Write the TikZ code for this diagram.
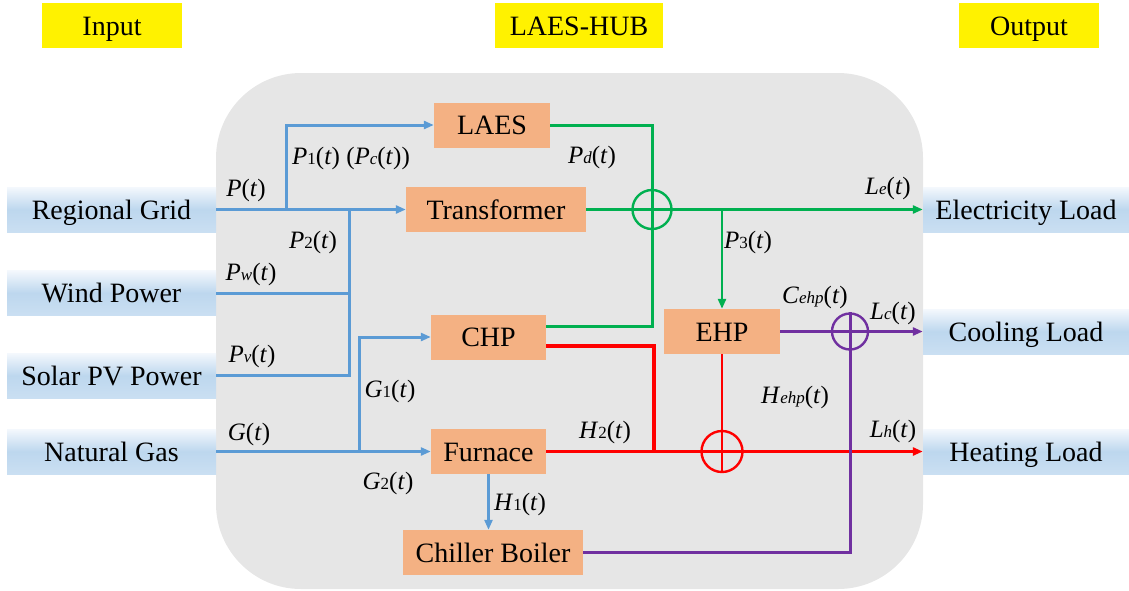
\documentclass[tikz,border=0pt]{standalone}
\usepackage{fontspec}
\setmainfont{Liberation Serif}
\usetikzlibrary{arrows.meta}
\definecolor{bgray}{RGB}{230,230,230}
\definecolor{orng}{RGB}{244,177,131}
\definecolor{lblue}{RGB}{91,155,213}
\definecolor{lgreen}{RGB}{0,176,80}
\definecolor{lred}{RGB}{255,0,0}
\definecolor{lpurp}{RGB}{112,48,160}
\definecolor{btop}{RGB}{244,248,253}
\definecolor{bmid}{RGB}{189,215,238}
\definecolor{bbot}{RGB}{202,223,242}
\newcommand\sbx[1]{{\fontsize{17}{17}\selectfont #1}}
\newcommand\tvar{(\textit{t})}
\begin{document}
\begin{tikzpicture}[x=1pt,y=-1pt,
  txt/.style={inner sep=0, text height=22pt, text depth=3pt, minimum height=45, font=\fontsize{28}{30}\selectfont},
  box/.style={txt, fill=orng, minimum width=#1},
  io/.style={txt, top color=btop, bottom color=bbot, middle color=bmid, minimum width=#1},
  ttl/.style={txt, fill=yellow, minimum width=#1},
  lab/.style={inner sep=0, font=\fontsize{25}{27}\selectfont},
  flow/.style={line width=3pt},
  tip/.style={-{Triangle[length=10pt,width=8pt]}},
  ring/.style={circle, draw=#1, line width=2.4pt, inner sep=0}
]
\useasboundingbox (0,0) rectangle (1129,590);
\node[fill=bgray, rounded corners=85pt, inner sep=0, minimum width=707, minimum height=516] (hub) at (569.5,331) {};

% titles
\node[ttl=140] (tin) at (112,25.5) {Input};
\node[ttl=168] (thub) at (579,25.5) {LAES-HUB};
\node[ttl=140] (tout) at (1029,25.5) {Output};

% inputs
\node[io=209] (rg) at (111.5,209.5) {Regional Grid};
\node[io=209] (wp) at (111.5,293) {Wind Power};
\node[io=209] (pv) at (111.5,375.5) {Solar PV Power};
\node[io=209] (ng) at (111.5,451.5) {Natural Gas};

% outputs
\node[io=206] (el) at (1026,209.5) {Electricity Load};
\node[io=206] (cl) at (1026,331.5) {Cooling Load};
\node[io=206] (hl) at (1026,451.5) {Heating Load};

% devices
\node[box=116] (laes) at (492,125) {LAES};
\node[box=180] (tr) at (496,209.5) {Transformer};
\node[box=115] (chp) at (488.5,337) {CHP};
\node[box=116] (ehp) at (722,331.5) {EHP};
\node[box=115] (fu) at (488.5,451.5) {Furnace};
\node[box=180] (cb) at (493,552.5) {Chiller Boiler};

% junction rings
\node[ring=lgreen, minimum size=39] (gc) at (652,209.5) {};
\node[ring=lred, minimum size=41] (rc) at (722,451.5) {};
\node[ring=lpurp, minimum size=36] (pc) at (850,331.5) {};

% blue flows
\coordinate (j1) at (286,209.5);
\coordinate (j2) at (349,209.5);
\coordinate (j3) at (359,451.5);
\draw[flow, draw=lblue, tip] (rg.east) -- (tr.west);
\draw[flow, draw=lblue, tip] (j1) |- (laes.west);
\draw[flow, draw=lblue] (j2) |- (pv.east);
\draw[flow, draw=lblue] (wp.east) -- (wp.east -| j2);
\draw[flow, draw=lblue, tip] (ng.east) -- (fu.west);
\draw[flow, draw=lblue, tip] (j3) |- (chp.west);
\draw[flow, draw=lblue, line width=2.4pt, tip] (fu.south) -- (fu.south |- cb.north);

% green flows
\coordinate (g1) at (652,326);
\coordinate (j4) at (722,209.5);
\draw[flow, draw=lgreen] (laes.east) -| (g1) -- (chp.east |- g1);
\draw[flow, draw=lgreen, tip] (tr.east) -- (el.west);
\draw[flow, draw=lgreen, line width=2.4pt, tip] (j4) -- (ehp.north);

% red flows
\coordinate (r1) at (654,346);
\draw[draw=lred, line width=3.8pt] (chp.east |- r1) -- (r1) -- (r1 |- fu.east);
\draw[flow, draw=lred, tip] (fu.east) -- (hl.west);
\draw[draw=lred, line width=2.2pt] (ehp.south) -- (rc.south);

% purple flows
\draw[flow, draw=lpurp, tip] (ehp.east) -- (cl.west);
\draw[flow, draw=lpurp] (pc.north) -- (pc.center |- cb.east) -- (cb.east);

% labels
\node[lab] (lP) at (246,190) {\textit{P}\tvar};
\node[lab] (lP1) at (351,158) {\textit{P}\sbx{1}\tvar{} (\textit{P}\sbx{\textit{c}}\tvar)};
\node[lab] (lPd) at (592,157) {\textit{P}\sbx{\textit{d}}\tvar};
\node[lab] (lP2) at (313,242) {\textit{P}\sbx{2}\tvar};
\node[lab] (lPw) at (251,274) {\textit{P}\sbx{\textit{w}}\tvar};
\node[lab] (lPv) at (252,356) {\textit{P}\sbx{\textit{v}}\tvar};
\node[lab] (lG) at (249,434) {\textit{G}\tvar};
\node[lab] (lG1) at (390,391) {\textit{G}\sbx{1}\tvar};
\node[lab] (lG2) at (388,483) {\textit{G}\sbx{2}\tvar};
\node[lab] (lH1) at (520,504) {\textit{H}\sbx{1}\tvar};
\node[lab] (lH2) at (605,432) {\textit{H}\sbx{2}\tvar};
\node[lab] (lLe) at (888,188) {\textit{L}\sbx{\textit{e}}\tvar};
\node[lab] (lP3) at (748,242) {\textit{P}\sbx{3}\tvar};
\node[lab] (lCe) at (815,297) {\textit{C}\sbx{\textit{ehp}}\tvar};
\node[lab] (lLc) at (893,313) {\textit{L}\sbx{\textit{c}}\tvar};
\node[lab] (lHe) at (795,397) {\textit{H}\sbx{\textit{ehp}}\tvar};
\node[lab] (lLh) at (893,431) {\textit{L}\sbx{\textit{h}}\tvar};
\end{tikzpicture}
\end{document}
